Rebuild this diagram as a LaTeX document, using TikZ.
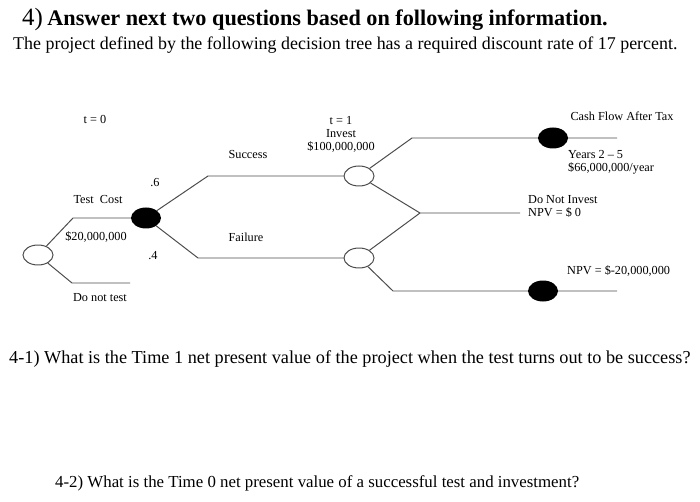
\documentclass[tikz,border=0pt]{standalone}
\usepackage{fontspec}
\setmainfont{Liberation Serif}
\usetikzlibrary{shapes.geometric}
\begin{document}
\begin{tikzpicture}[x=1bp,y=-1bp,
  lbl/.style={font=\fontsize{12.3}{13}\selectfont,inner sep=0pt,align=center},
  lbll/.style={lbl,anchor=west,align=left},
  txt/.style={font=\fontsize{18}{20}\selectfont,inner sep=0pt,anchor=west},
  br/.style={draw=black!70,line width=1pt},
  chance/.style={ellipse,draw=black!70,line width=1pt,minimum width=30bp,minimum height=20bp,inner sep=0pt},
  term/.style={ellipse,fill=black,minimum width=30bp,minimum height=21bp,inner sep=0pt}]
\useasboundingbox (0,0) rectangle (700,502);
% header
\node[txt,anchor=base west] (h1) at (22,26) {{\fontsize{25}{26}\selectfont 4)} {\fontsize{22.3}{23}\selectfont\textbf{Answer next two questions based on following information.}}};
\node[txt,anchor=base west] (h2) at (13,50) {The project defined by the following decision tree has a required discount rate of 17 percent.};
% nodes
\node[chance] (o1) at (38,255) {};
\node[term] (b1) at (146,218) {};
\node[chance] (c2) at (359,176) {};
\node[chance] (c3) at (359,258) {};
\node[term] (e1) at (553,138) {};
\node[term] (e2) at (543,291) {};
\coordinate (a1) at (73,218);
\coordinate (a2) at (72,283);
\coordinate (a3) at (130,283);
\coordinate (s1) at (208,176);
\coordinate (f1) at (198,258);
\coordinate (u1) at (412,138);
\coordinate (u2) at (617,138);
\coordinate (m1) at (420,213);
\coordinate (m2) at (520,213);
\coordinate (d1) at (393,291);
\coordinate (d2) at (617,291);
\draw[br] (o1) -- (a1) -- (b1);
\draw[br] (o1) -- (a2) -- (a3);
\draw[br] (b1) -- (s1) -- (c2);
\draw[br] (b1) -- (f1) -- (c3);
\draw[br] (c2) -- (u1) -- (e1) -- (u2);
\draw[br] (c2) -- (m1) -- (m2);
\draw[br] (c3) -- (m1);
\draw[br] (c3) -- (d1) -- (e2) -- (d2);
% labels
\node[lbl] (t0) at (95,119) {t = 0};
\node[lbl] (tc) at (98,200) {Test\ \ Cost};
\node[lbl] (tc2) at (96,237) {\$20,000,000};
\node[lbl] (dnt) at (100,298) {Do not test};
\node[lbl] (p6) at (155,183) {.6};
\node[lbl] (p4) at (153,256) {.4};
\node[lbl] (suc) at (248,155) {Success};
\node[lbl] (fai) at (246,237) {Failure};
\node[lbl] (t1) at (341,134) {t = 1\\Invest\\\$100,000,000};
\node[lbl] (cf) at (622,116) {Cash Flow After Tax};
\node[lbll] (yr) at (568,162) {Years 2 -- 5\\\$66,000,000/year};
\node[lbll] (dni) at (528,206) {Do Not Invest\\NPV = \$ 0};
\node[lbll] (npv) at (567,271) {NPV = \$-20,000,000};
% questions
\node[txt,anchor=base west,font=\fontsize{18.3}{20}\selectfont] (q1) at (9,363) {4-1) What is the Time 1 net present value of the project when the test turns out to be success?};
\node[txt,anchor=base west,font=\fontsize{16.9}{20}\selectfont] (q2) at (55,487) {4-2) What is the Time 0 net present value of a successful test and investment?};
\end{tikzpicture}
\end{document}
